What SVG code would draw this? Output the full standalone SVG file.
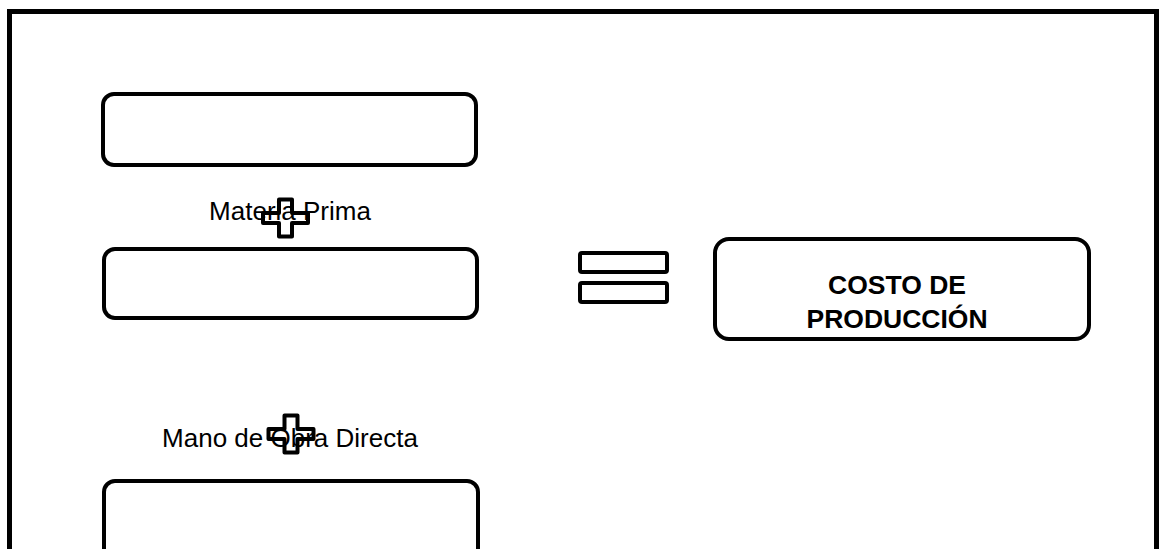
<svg xmlns="http://www.w3.org/2000/svg" width="1163" height="549" viewBox="0 0 1163 549">
<style>
.box{fill:#fff;stroke:#000;stroke-width:4}
.sym{fill:none;stroke:#000;stroke-width:4;stroke-linejoin:round}
.lbl{font-family:"Liberation Sans",Arial,sans-serif;font-size:26px;fill:#000;text-anchor:middle}
.bold{font-weight:bold;font-size:26.5px}
</style>
<defs>
<path id="plus" d="M -6.5,-18.5 H 6.5 V -5 H 22.5 V 5 H 6.5 V 18.5 H -6.5 V 5 H -22.5 V -5 H -6.5 Z"/>
</defs>
<rect width="1163" height="549" fill="#fff"/>
<rect id="frame" x="9.5" y="11.5" width="1147" height="560" fill="none" stroke="#000" stroke-width="5"/>
<g id="box1"><rect class="box" x="103" y="94" width="373" height="71" rx="11"/></g>
<g id="label-materia"><text class="lbl" x="290" y="220">Materia Prima</text></g>
<g id="plus1"><use href="#plus" class="sym" transform="translate(285.5,218)"/></g>
<g id="box2"><rect class="box" x="104" y="249" width="373" height="69" rx="11"/></g>
<g id="label-mano"><text class="lbl" x="290" y="447">Mano de Obra Directa</text></g>
<g id="plus2"><use href="#plus" class="sym" transform="translate(291,434)"/></g>
<g id="box3"><rect class="box" x="104" y="481" width="374" height="100" rx="11"/></g>
<g id="equals">
<rect class="sym" x="580" y="253" width="87" height="19" rx="2"/>
<rect class="sym" x="580" y="283" width="87" height="19" rx="2"/>
</g>
<g id="costo">
<rect class="box" x="715" y="239" width="374" height="100" rx="14"/>
<text class="lbl bold" x="897" y="294">COSTO DE</text>
<text class="lbl bold" x="897" y="328">PRODUCCIÓN</text>
</g>
<g id="connectors"/>
</svg>
